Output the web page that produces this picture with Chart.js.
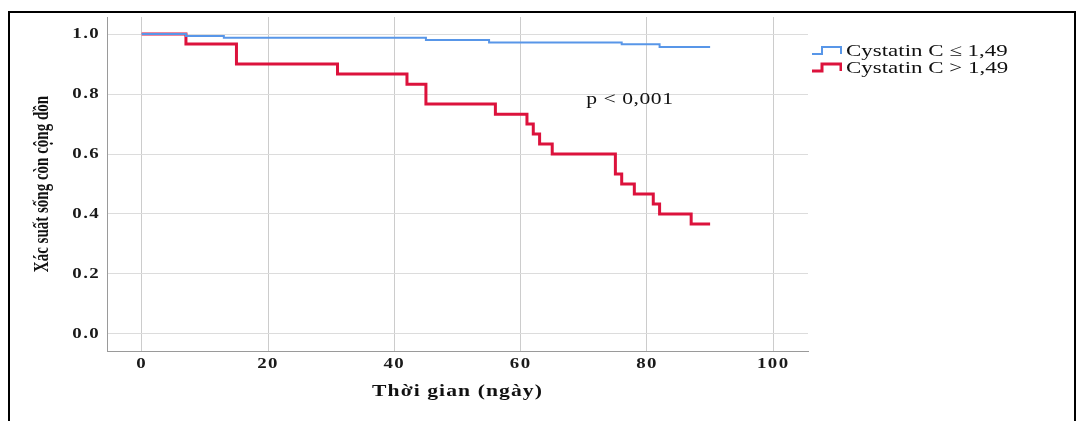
<!DOCTYPE html>
<html>
<head>
<meta charset="utf-8">
<script src="https://cdn.jsdelivr.net/npm/chart.js@4.4.1/dist/chart.umd.min.js"></script>
<style>
  body { margin: 0; background: #fff; }
  #wrap { position: relative; width: 1076px; height: 421px; overflow: hidden; }
  #frame { position: absolute; left: 8px; top: 11px; width: 1068px; height: 430px;
           box-sizing: border-box; border: 2px solid #000; border-bottom: none; }
  #chart { position: absolute; left: 0; top: 0; }
  #legend { position: absolute; left: 811px; top: 42px; font-family: "Liberation Serif", serif;
            font-size: 17px; color: #111; white-space: nowrap; }
  #legend .row { display: flex; align-items: center; height: 17px; }
  #legend svg { margin-right: 4px; }
  #legend span { display: inline-block; transform: scaleX(1.35); transform-origin: left center; }
</style>
</head>
<body>
<div id="wrap">
  <div id="frame"></div>
  <canvas id="chart" width="1076" height="421"></canvas>
  <div id="legend"></div>
</div>
<script>
// Kaplan-Meier curves (time in days, cumulative survival)
const timesLow = [0, 7, 13, 45, 55, 76, 82, 90];
const survLow = [1, 0.994, 0.988, 0.98, 0.972, 0.966, 0.957, 0.957];

const timesHigh = [0, 7, 15, 31, 42, 45, 56, 61, 62, 63, 65, 75, 76, 78, 81, 82, 87, 90];
const survHigh = [1, 0.967, 0.9, 0.867, 0.833, 0.767, 0.733, 0.7, 0.667, 0.633, 0.6,
                  0.533, 0.5, 0.467, 0.433, 0.4, 0.367, 0.367];

const seriesLabels = ['Cystatin C \u2264 1,49', 'Cystatin C > 1,49'];
const seriesColors = ['rgb(88,150,232)', 'rgb(220,18,60)'];

const xTicks = [0, 20, 40, 60, 80, 100];
const yTicks = [0, 0.2, 0.4, 0.6, 0.8, 1.0];

const xTitle = 'Thời gian (ngày)';
const yTitle = 'Xác suất sống còn cộng dồn';
const pText = 'p < 0,001';

// the original export is stretched sideways; text is widened the same way
const textStretch = 1.35;

function toPoints(xs, ys) {
  return xs.map((x, i) => ({ x: x, y: ys[i] }));
}

const canvas = document.getElementById('chart');
const c2d = canvas.getContext('2d');
const rawFill = c2d.fillText.bind(c2d);
c2d.fillText = function (text, x, y, maxWidth) {
  const m = c2d.getTransform();
  const p = m.transformPoint(new DOMPoint(x, y));
  c2d.save();
  c2d.setTransform(new DOMMatrix().translate(p.x, p.y).scale(textStretch, 1)
    .translate(-p.x, -p.y).multiply(m));
  rawFill(text, x, y, maxWidth);
  c2d.restore();
};

const titleSpacing = { x: '0.8px', y: '0px' };

const spacing = {
  id: 'spacing',
  beforeDraw(chart) {
    chart.ctx.letterSpacing = '1px';
    Object.values(chart.scales).forEach(s => {
      if (s._spPatched) return;
      const orig = s.drawTitle;
      s.drawTitle = function () {
        const ctx = this.ctx;
        const prev = ctx.letterSpacing;
        ctx.letterSpacing = titleSpacing[this.id] || '0px';
        orig.apply(this, arguments);
        ctx.letterSpacing = prev;
      };
      s._spPatched = true;
    });
  }
};

const pLabel = {
  id: 'pLabel',
  afterDatasetsDraw(chart) {
    const { ctx, scales } = chart;
    ctx.save();
    ctx.letterSpacing = '0.4px';
    ctx.font = '16px "Liberation Serif", serif';
    ctx.fillStyle = '#111';
    ctx.textAlign = 'center';
    ctx.textBaseline = 'middle';
    ctx.fillText(pText, scales.x.getPixelForValue(77.3), scales.y.getPixelForValue(0.78));
    ctx.restore();
  }
};

const tickFont = { family: '"Liberation Serif", serif', size: 14, weight: 'bold' };

new Chart(canvas, {
  type: 'line',
  data: {
    datasets: [
      {
        label: seriesLabels[0],
        data: toPoints(timesLow, survLow),
        borderColor: seriesColors[0],
        borderWidth: 2,
        stepped: 'before',
        pointRadius: 0,
        fill: false
      },
      {
        label: seriesLabels[1],
        data: toPoints(timesHigh, survHigh),
        borderColor: seriesColors[1],
        borderWidth: 3,
        stepped: 'before',
        pointRadius: 0,
        fill: false
      }
    ]
  },
  options: {
    responsive: false,
    animation: false,
    layout: { padding: { left: 20, top: 17, right: 268, bottom: 0 } },
    plugins: {
      legend: { display: false },
      tooltip: { enabled: false }
    },
    scales: {
      x: {
        type: 'linear',
        min: -5.5,
        max: 105.5,
        afterBuildTicks: s => { s.ticks = xTicks.map(v => ({ value: v })); },
        afterFit: s => { s.height = 70; },
        grid: { color: '#cccccc', drawTicks: false },
        border: { color: '#9a9a9a', width: 1 },
        ticks: { font: tickFont, color: '#1a1a1a', padding: 5, maxRotation: 0 },
        title: { display: true, text: xTitle, color: '#111',
                 font: { family: '"Liberation Serif", serif', size: 16, weight: 'bold' },
                 padding: { top: 0, bottom: 20 } }
      },
      y: {
        min: -0.057,
        max: 1.057,
        afterBuildTicks: s => { s.ticks = yTicks.map(v => ({ value: v })); },
        afterFit: s => { s.width = 87; },
        grid: { color: '#dcdcdc', drawTicks: false },
        border: { color: '#9a9a9a', width: 1 },
        ticks: { font: tickFont, color: '#1a1a1a', padding: 7,
                 callback: v => v.toFixed(1) },
        title: { display: true, text: yTitle, color: '#111',
                 font: { family: '"Liberation Serif", serif', size: 15, weight: 'bold' },
                 padding: { top: 14, bottom: 0 } }
      }
    }
  },
  plugins: [spacing, pLabel]
});

// legend with step icons
const legend = document.getElementById('legend');
seriesLabels.forEach((lab, i) => {
  const row = document.createElement('div');
  row.className = 'row';
  row.innerHTML =
    '<svg width="31" height="11"><polyline points="1,9 11,9 11,2 30,2 30,9" fill="none" stroke="' +
    seriesColors[i] + '" stroke-width="' + (i ? 3 : 2) + '"/></svg><span></span>';
  row.querySelector('span').textContent = lab;
  legend.appendChild(row);
});
</script>
</body>
</html>
